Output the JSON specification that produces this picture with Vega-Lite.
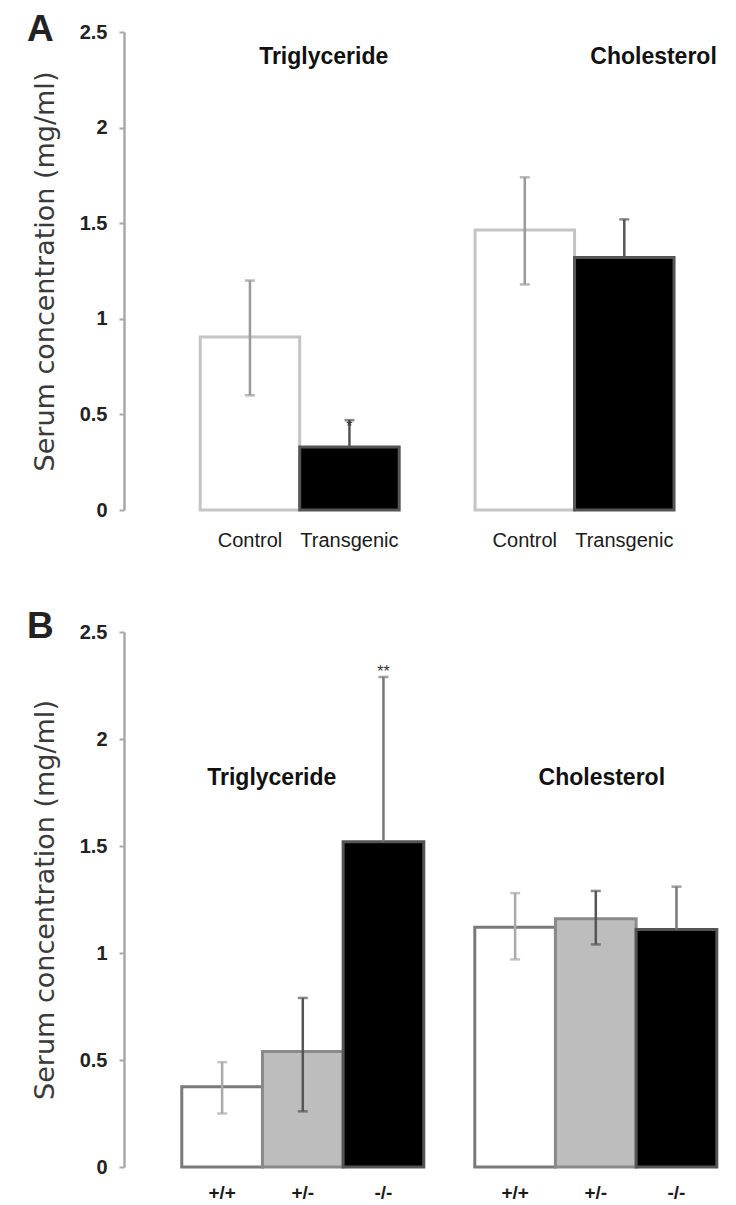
{
  "$schema": "https://vega.github.io/schema/vega-lite/v6.json",
  "background": "white",
  "padding": {"left": 27, "top": 11, "right": 0, "bottom": 0},
  "bounds": "flush",
  "spacing": 122,
  "resolve": {"scale": {"x": "independent", "xOffset": "independent", "y": "independent", "fill": "independent", "stroke": "independent", "color": "independent"}},
  "datasets": {
    "A": [
      {"group": "Triglyceride", "geno": "Control", "mean": 0.905, "low": 0.6, "high": 1.2, "sig": ""},
      {"group": "Triglyceride", "geno": "Transgenic", "mean": 0.33, "low": 0.33, "high": 0.47, "sig": "*"},
      {"group": "Cholesterol", "geno": "Control", "mean": 1.465, "low": 1.18, "high": 1.74, "sig": ""},
      {"group": "Cholesterol", "geno": "Transgenic", "mean": 1.32, "low": 1.32, "high": 1.52, "sig": ""}
    ],
    "B": [
      {"group": "Triglyceride", "geno": "+/+", "mean": 0.375, "low": 0.25, "high": 0.49, "sig": ""},
      {"group": "Triglyceride", "geno": "+/-", "mean": 0.54, "low": 0.26, "high": 0.79, "sig": ""},
      {"group": "Triglyceride", "geno": "-/-", "mean": 1.52, "low": 1.52, "high": 2.29, "sig": "**"},
      {"group": "Cholesterol", "geno": "+/+", "mean": 1.12, "low": 0.97, "high": 1.28, "sig": ""},
      {"group": "Cholesterol", "geno": "+/-", "mean": 1.16, "low": 1.04, "high": 1.29, "sig": ""},
      {"group": "Cholesterol", "geno": "-/-", "mean": 1.11, "low": 1.11, "high": 1.31, "sig": ""}
    ]
  },
  "vconcat": [
    {
      "width": 603,
      "height": 478,
      "title": {"text": "A", "anchor": "start", "frame": "group", "font": "Liberation Sans", "fontSize": 37, "fontWeight": "bold", "color": "#222", "baseline": "alphabetic", "offset": 0, "dx": -97, "dy": 56},
      "data": {"name": "A"},
      "layer": [
        {
          "mark": {"type": "bar", "strokeWidth": 3},
          "encoding": {
            "x": {"field": "group", "type": "nominal", "axis": null, "scale": {"domain": ["Triglyceride", "Cholesterol"], "paddingInner": 0.276, "paddingOuter": 0.235, "align": 0.59}},
            "xOffset": {"field": "geno", "type": "nominal", "scale": {"domain": ["Control", "Transgenic"], "paddingInner": 0, "paddingOuter": 0}},
            "y": {"field": "mean", "type": "quantitative", "scale": {"domain": [0, 2.5], "nice": false},
              "axis": {"title": "Serum concentration (mg/ml)", "values": [0, 0.5, 1, 1.5, 2, 2.5], "format": "~g", "grid": false,
                "domainColor": "#a8a8a8", "domainWidth": 2.5, "tickColor": "#a8a8a8", "tickSize": 5, "tickWidth": 2,
                "labelFont": "Liberation Sans", "labelFontSize": 20, "labelFontWeight": "bold", "labelColor": "#222", "labelPadding": 12,
                "titleFont": "DejaVu Sans", "titleFontSize": 27, "titleFontWeight": "normal", "titleColor": "#3a3a3a", "titlePadding": 20}},
            "fill": {"field": "geno", "type": "nominal", "scale": {"domain": ["Control", "Transgenic"], "range": ["#ffffff", "#000000"]}, "legend": null},
            "stroke": {"field": "geno", "type": "nominal", "scale": {"domain": ["Control", "Transgenic"], "range": ["#c4c4c4", "#555555"]}, "legend": null}
          }
        },
        {
          "mark": {"type": "rule", "strokeWidth": 2.5},
          "encoding": {
            "x": {"field": "group", "type": "nominal"},
            "xOffset": {"field": "geno", "type": "nominal"},
            "y": {"field": "low", "type": "quantitative"},
            "y2": {"field": "high"},
            "color": {"field": "geno", "type": "nominal", "scale": {"domain": ["Control", "Transgenic"], "range": ["#999999", "#555555"]}, "legend": null}
          }
        },
        {
          "mark": {"type": "tick", "thickness": 2.5, "size": 10},
          "encoding": {
            "x": {"field": "group", "type": "nominal"},
            "xOffset": {"field": "geno", "type": "nominal"},
            "y": {"field": "high", "type": "quantitative"},
            "color": {"field": "geno", "type": "nominal", "legend": null}
          }
        },
        {
          "transform": [{"filter": "datum.low < datum.mean"}],
          "mark": {"type": "tick", "thickness": 2.5, "size": 10},
          "encoding": {
            "x": {"field": "group", "type": "nominal"},
            "xOffset": {"field": "geno", "type": "nominal"},
            "y": {"field": "low", "type": "quantitative"},
            "color": {"field": "geno", "type": "nominal", "legend": null}
          }
        },
        {
          "transform": [{"filter": "datum.sig != ''"}],
          "mark": {"type": "text", "font": "Liberation Sans", "fontSize": 16, "color": "#333", "baseline": "alphabetic", "dy": 12},
          "encoding": {
            "x": {"field": "group", "type": "nominal"},
            "xOffset": {"field": "geno", "type": "nominal"},
            "y": {"field": "high", "type": "quantitative"},
            "text": {"field": "sig"}
          }
        },
        {
          "mark": {"type": "text", "font": "Liberation Sans", "fontSize": 20, "color": "#1a1a1a", "baseline": "middle", "dy": 31},
          "encoding": {
            "x": {"field": "group", "type": "nominal"},
            "xOffset": {"field": "geno", "type": "nominal"},
            "y": {"datum": 0},
            "text": {"field": "geno"}
          }
        },
        {
          "data": {"values": [{}]},
          "mark": {"type": "text", "font": "Liberation Sans", "fontSize": 23, "fontWeight": "bold", "color": "#111", "baseline": "middle", "dx": 24},
          "encoding": {"x": {"datum": "Triglyceride"}, "y": {"datum": 2.37}, "text": {"value": "Triglyceride"}}
        },
        {
          "data": {"values": [{}]},
          "mark": {"type": "text", "font": "Liberation Sans", "fontSize": 23, "fontWeight": "bold", "color": "#111", "baseline": "middle", "dx": 79},
          "encoding": {"x": {"datum": "Cholesterol"}, "y": {"datum": 2.37}, "text": {"value": "Cholesterol"}}
        }
      ]
    },
    {
      "width": 603,
      "height": 535,
      "title": {"text": "B", "anchor": "start", "frame": "group", "font": "Liberation Sans", "fontSize": 37, "fontWeight": "bold", "color": "#222", "baseline": "alphabetic", "offset": 0, "dx": -97, "dy": 53},
      "data": {"name": "B"},
      "layer": [
        {
          "mark": {"type": "bar", "strokeWidth": 3},
          "encoding": {
            "x": {"field": "group", "type": "nominal", "axis": null, "scale": {"domain": ["Triglyceride", "Cholesterol"], "paddingInner": 0.174, "paddingOuter": 0.116, "align": 0.85}},
            "xOffset": {"field": "geno", "type": "nominal", "scale": {"domain": ["+/+", "+/-", "-/-"], "paddingInner": 0, "paddingOuter": 0}},
            "y": {"field": "mean", "type": "quantitative", "scale": {"domain": [0, 2.5], "nice": false},
              "axis": {"title": "Serum concentration (mg/ml)", "values": [0, 0.5, 1, 1.5, 2, 2.5], "format": "~g", "grid": false,
                "domainColor": "#a8a8a8", "domainWidth": 2.5, "tickColor": "#a8a8a8", "tickSize": 5, "tickWidth": 2,
                "labelFont": "Liberation Sans", "labelFontSize": 20, "labelFontWeight": "bold", "labelColor": "#222", "labelPadding": 12,
                "titleFont": "DejaVu Sans", "titleFontSize": 27, "titleFontWeight": "normal", "titleColor": "#3a3a3a", "titlePadding": 20}},
            "fill": {"field": "geno", "type": "nominal", "scale": {"domain": ["+/+", "+/-", "-/-"], "range": ["#ffffff", "#bdbdbd", "#000000"]}, "legend": null},
            "stroke": {"field": "geno", "type": "nominal", "scale": {"domain": ["+/+", "+/-", "-/-"], "range": ["#7a7a7a", "#8a8a8a", "#555555"]}, "legend": null}
          }
        },
        {
          "mark": {"type": "rule", "strokeWidth": 2.5},
          "encoding": {
            "x": {"field": "group", "type": "nominal"},
            "xOffset": {"field": "geno", "type": "nominal"},
            "y": {"field": "low", "type": "quantitative"},
            "y2": {"field": "high"},
            "color": {"field": "geno", "type": "nominal", "scale": {"domain": ["+/+", "+/-", "-/-"], "range": ["#aaaaaa", "#555555", "#777777"]}, "legend": null}
          }
        },
        {
          "mark": {"type": "tick", "thickness": 2.5, "size": 10},
          "encoding": {
            "x": {"field": "group", "type": "nominal"},
            "xOffset": {"field": "geno", "type": "nominal"},
            "y": {"field": "high", "type": "quantitative"},
            "color": {"field": "geno", "type": "nominal", "legend": null}
          }
        },
        {
          "transform": [{"filter": "datum.low < datum.mean"}],
          "mark": {"type": "tick", "thickness": 2.5, "size": 10},
          "encoding": {
            "x": {"field": "group", "type": "nominal"},
            "xOffset": {"field": "geno", "type": "nominal"},
            "y": {"field": "low", "type": "quantitative"},
            "color": {"field": "geno", "type": "nominal", "legend": null}
          }
        },
        {
          "transform": [{"filter": "datum.sig != ''"}],
          "mark": {"type": "text", "font": "Liberation Sans", "fontSize": 16, "color": "#333", "baseline": "alphabetic", "dy": 0},
          "encoding": {
            "x": {"field": "group", "type": "nominal"},
            "xOffset": {"field": "geno", "type": "nominal"},
            "y": {"field": "high", "type": "quantitative"},
            "text": {"field": "sig"}
          }
        },
        {
          "mark": {"type": "text", "font": "Liberation Sans", "fontSize": 19, "fontWeight": "bold", "color": "#1a1a1a", "baseline": "middle", "dy": 26},
          "encoding": {
            "x": {"field": "group", "type": "nominal"},
            "xOffset": {"field": "geno", "type": "nominal"},
            "y": {"datum": 0},
            "text": {"field": "geno"}
          }
        },
        {
          "data": {"values": [{}]},
          "mark": {"type": "text", "font": "Liberation Sans", "fontSize": 23, "fontWeight": "bold", "color": "#111", "baseline": "middle", "dx": -31},
          "encoding": {"x": {"datum": "Triglyceride"}, "y": {"datum": 1.82}, "text": {"value": "Triglyceride"}}
        },
        {
          "data": {"values": [{}]},
          "mark": {"type": "text", "font": "Liberation Sans", "fontSize": 23, "fontWeight": "bold", "color": "#111", "baseline": "middle", "dx": 6},
          "encoding": {"x": {"datum": "Cholesterol"}, "y": {"datum": 1.82}, "text": {"value": "Cholesterol"}}
        }
      ]
    }
  ],
  "config": {"view": {"stroke": null}, "font": "Liberation Sans"}
}
